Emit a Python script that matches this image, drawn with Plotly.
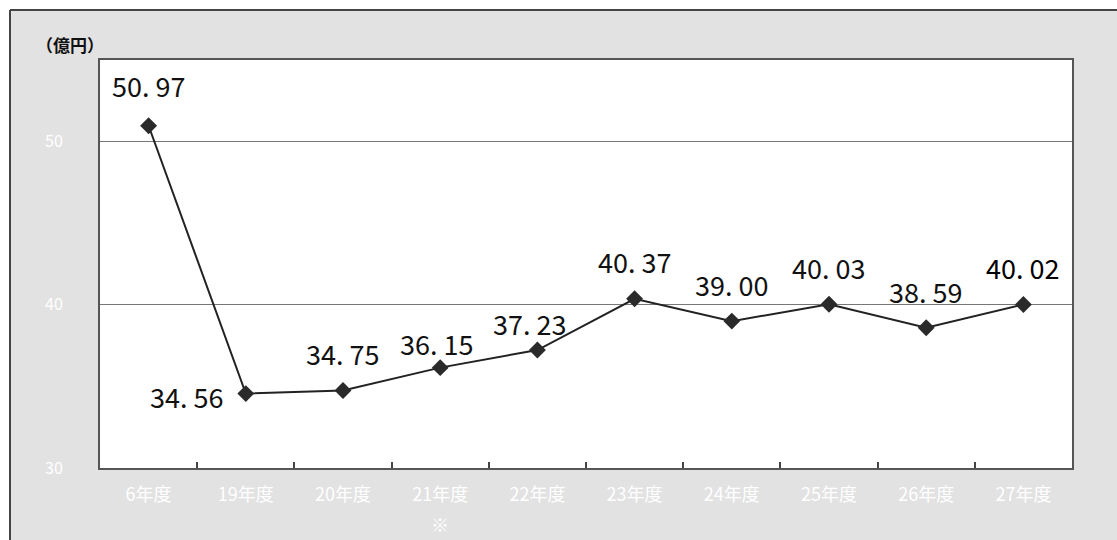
import plotly.graph_objects as go

categories = ["6年度", "19年度", "20年度", "21年度", "22年度", "23年度", "24年度", "25年度", "26年度", "27年度"]
note_category = "21年度"
note_text = "※"
values = [50.97, 34.56, 34.75, 36.15, 37.23, 40.37, 39.00, 40.03, 38.59, 40.02]
y_ticks = [30, 40, 50]

W, H = 1117, 540
L, R, T, B = 100, 1072, 60, 468

def px_x(p):
    return (p - L) / (R - L)

def px_y(p):
    return (B - p) / (B - T)

labels = [f"{v:.2f}".replace(".", ". ") for v in values]
# label placement (pixel shifts relative to each point)
label_shift = [(0, 40, "center"), (-20, -3, "right"), (0, 37, "center"), (-3, 24, "center"),
               (-7, 27, "center"), (0, 37, "center"), (0, 37, "center"), (0, 37, "center"),
               (0, 36, "center"), (0, 37, "center")]
label_color = ["#111111"] * 9 + ["#000000"]

fig = go.Figure()
fig.add_trace(go.Scatter(
    x=categories, y=values, mode="lines+markers",
    line=dict(color="#222222", width=2),
    marker=dict(symbol="diamond", size=13, color="#2a2a2a"),
    cliponaxis=False, showlegend=False, hoverinfo="skip",
))

annotations = []
for c, v, t, (dx, dy, xa), col in zip(categories, values, labels, label_shift, label_color):
    annotations.append(dict(
        x=c, y=v, xref="x", yref="y", text=t, showarrow=False,
        xanchor=xa, yanchor="middle", xshift=dx, yshift=dy,
        font=dict(family="Noto Sans CJK JP", size=27, color=col),
    ))
annotations.append(dict(
    x=note_category, y=px_y(524), xref="x", yref="paper", text=note_text, showarrow=False,
    xanchor="center", yanchor="middle",
    font=dict(family="Noto Sans CJK JP", size=18, color="white"),
))
annotations.append(dict(
    text="<b>（億円）</b>", xref="paper", yref="paper", x=px_x(34), y=px_y(45),
    xanchor="left", yanchor="middle", showarrow=False,
    font=dict(family="Noto Sans CJK JP", size=17, color="#111"),
))

fig.update_layout(
    width=W, height=H,
    margin=dict(l=L, r=W - R, t=T, b=H - B),
    paper_bgcolor="#e2e2e2",
    plot_bgcolor="white",
    font=dict(family="Noto Sans CJK JP"),
    xaxis=dict(
        type="category", showgrid=False, tickson="boundaries",
        ticks="inside", ticklen=6, tickcolor="#444", tickwidth=2,
        showline=True, linecolor="#555", linewidth=2, mirror=True,
        tickfont=dict(family="Noto Sans CJK JP", size=18, color="white"),
        ticklabelstandoff=9,
        range=[-0.5, 9.5],
    ),
    yaxis=dict(
        range=[30, 55], tickvals=y_ticks, ticktext=[str(t) for t in y_ticks],
        showgrid=True, gridcolor="#777", gridwidth=1.2,
        showline=True, linecolor="#555", linewidth=2, mirror=True,
        ticks="", ticklabelstandoff=32,
        tickfont=dict(family="Noto Sans CJK JP", size=16, color="white"),
        zeroline=False,
    ),
    shapes=[
        dict(type="rect", xref="paper", yref="paper", x0=px_x(-5), x1=px_x(10), y0=px_y(560), y1=px_y(-5),
             fillcolor="white", line=dict(width=0), layer="above"),
        dict(type="rect", xref="paper", yref="paper", x0=px_x(-5), x1=px_x(1130), y0=px_y(10), y1=px_y(-5),
             fillcolor="white", line=dict(width=0), layer="above"),
        dict(type="line", xref="paper", yref="paper", x0=px_x(10), x1=px_x(10), y0=px_y(560), y1=px_y(10),
             line=dict(color="#444", width=2)),
        dict(type="line", xref="paper", yref="paper", x0=px_x(10), x1=px_x(1130), y0=px_y(10), y1=px_y(10),
             line=dict(color="#444", width=2)),
    ],
    annotations=annotations,
)

fig.write_html("out.html", config={"displayModeBar": False},
               post_script="document.body.style.margin='0px';")
